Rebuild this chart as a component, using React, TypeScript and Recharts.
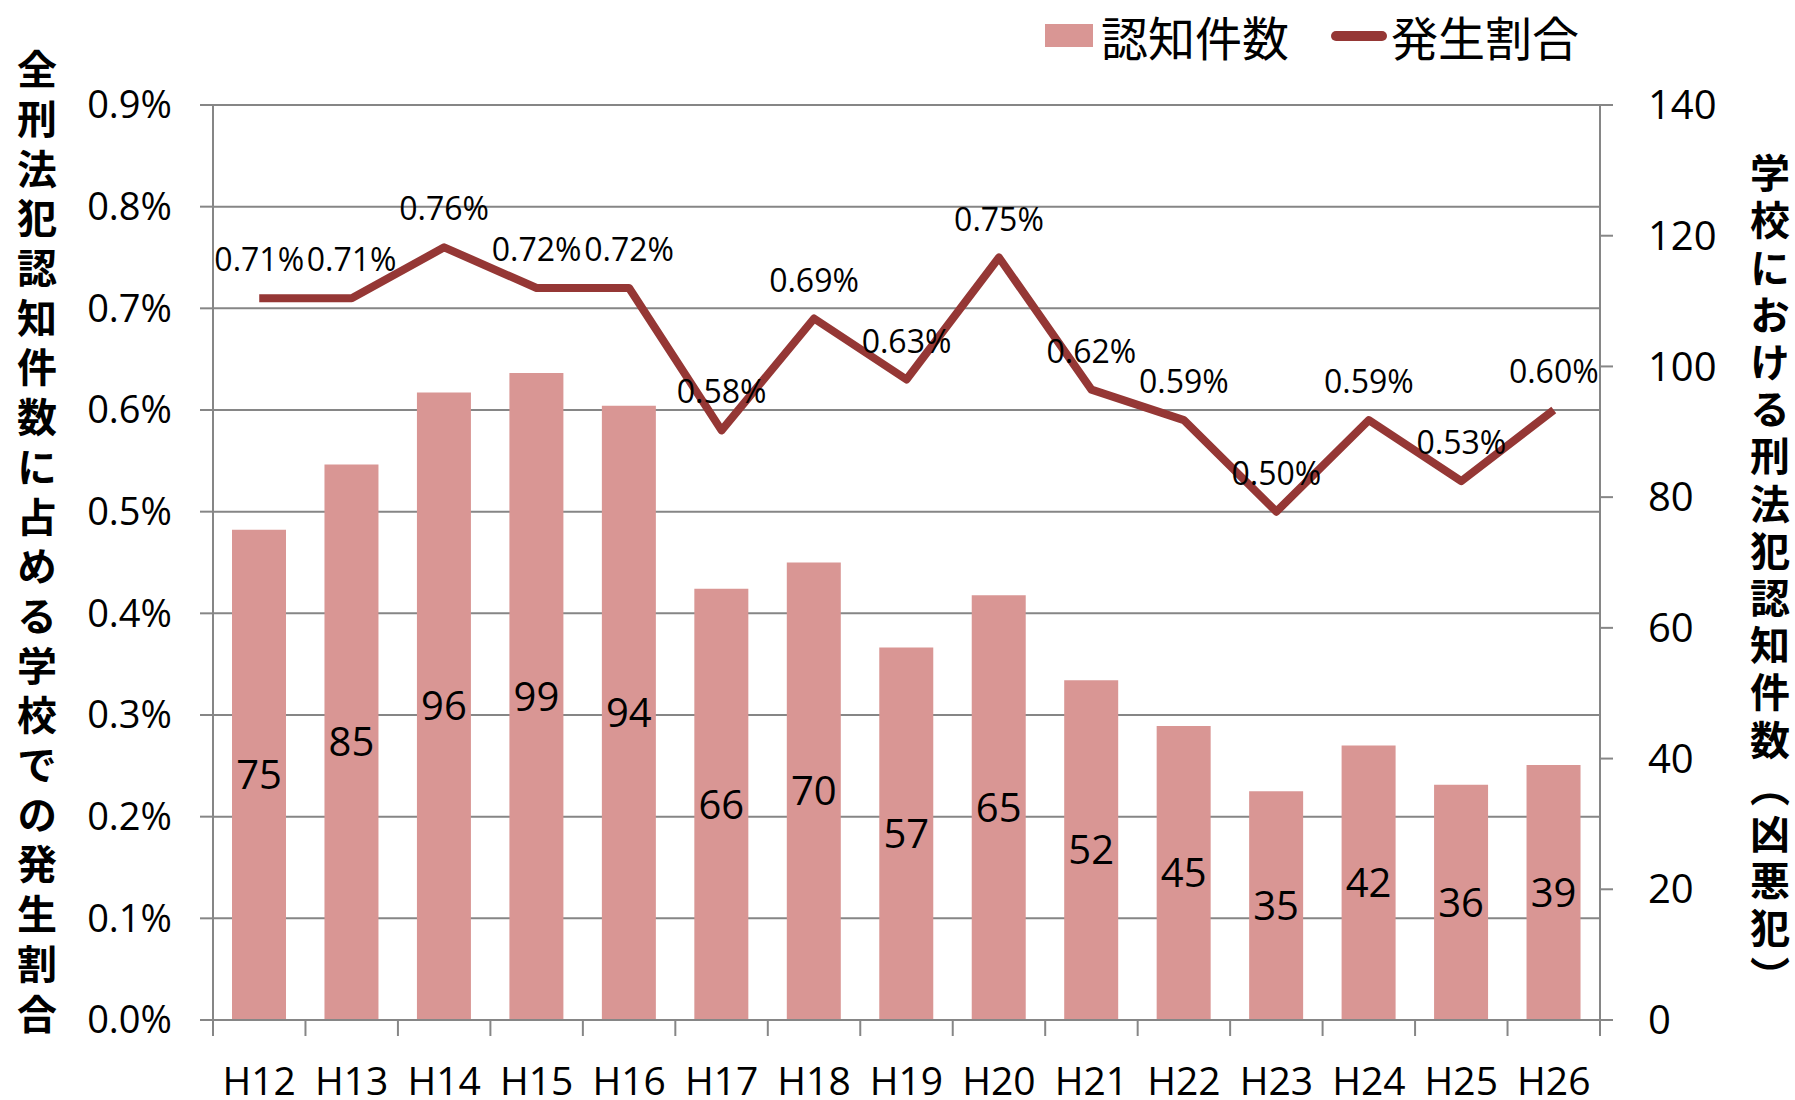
import {
  ComposedChart,
  Bar,
  Line,
  XAxis,
  YAxis,
  CartesianGrid,
  Legend,
  LabelList,
} from "recharts";

// 年度・凶悪犯認知件数・発生割合
const years = ["H12", "H13", "H14", "H15", "H16", "H17", "H18", "H19", "H20", "H21", "H22", "H23", "H24", "H25", "H26"];
const counts = [75, 85, 96, 99, 94, 66, 70, 57, 65, 52, 45, 35, 42, 36, 39];
const rates = [0.71, 0.71, 0.76, 0.72, 0.72, 0.58, 0.69, 0.63, 0.75, 0.62, 0.59, 0.5, 0.59, 0.53, 0.6];

const rateTicks = [0, 0.1, 0.2, 0.3, 0.4, 0.5, 0.6, 0.7, 0.8, 0.9];
const countTicks = [0, 20, 40, 60, 80, 100, 120, 140];

const leftTitle = "全刑法犯認知件数に占める学校での発生割合";
const rightTitle = "学校における刑法犯認知件数（凶悪犯）";

const data = years.map((y, i) => ({ year: y, count: counts[i], rate: rates[i] }));

const BAR_COLOR = "#D99694";
const LINE_COLOR = "#953735";
const AXIS_COLOR = "#868686";
const NUM_FONT = "'Open Sans', sans-serif";
const JP_FONT = "'Noto Sans CJK JP', sans-serif";

const W = 1795;
const H = 1100;
const PLOT_LEFT = 213;
const PLOT_RIGHT = 1600;
const BAND = (PLOT_RIGHT - PLOT_LEFT) / years.length;

function XTick(props: any) {
  const { x, y, payload, index } = props;
  return (
    <g>
      <line x1={x - BAND / 2} x2={x - BAND / 2} y1={y} y2={y + 16} stroke={AXIS_COLOR} strokeWidth={2} />
      {index === years.length - 1 && (
        <line x1={x + BAND / 2} x2={x + BAND / 2} y1={y} y2={y + 16} stroke={AXIS_COLOR} strokeWidth={2} />
      )}
      <text
        x={x}
        y={y + 59}
        textAnchor="middle"
        dominantBaseline="central"
        fontSize={39}
        fontFamily={NUM_FONT}
        fill="#000"
      >
        {payload.value}
      </text>
    </g>
  );
}

// 縦書きタイトル
function verticalTitle(text: string, cx: number, top: number, spacing: number) {
  return (
    <text
      x={cx}
      y={top}
      style={{ writingMode: "vertical-rl" }}
      letterSpacing={spacing}
      fontSize={40}
      fontWeight={700}
      fontFamily={JP_FONT}
      fill="#000"
    >
      {text}
    </text>
  );
}

function LegendContent() {
  return (
    <div
      style={{
        display: "flex",
        alignItems: "center",
        fontFamily: JP_FONT,
        fontSize: 47,
        color: "#000",
        lineHeight: 1,
      }}
    >
      <div style={{ width: 48, height: 23, background: BAR_COLOR, marginRight: 8 }} />
      <span>認知件数</span>
      <div
        style={{
          width: 56,
          height: 10,
          borderRadius: 5,
          background: LINE_COLOR,
          marginLeft: 42,
          marginRight: 4,
        }}
      />
      <span>発生割合</span>
    </div>
  );
}

export default function App() {
  return (
    <div style={{ position: "absolute", left: 0, top: 0, background: "#fff" }}>
      <ComposedChart
        width={W}
        height={H}
        data={data}
        margin={{ top: 105, right: 0, bottom: 0, left: 0 }}
        style={{ fontFamily: NUM_FONT }}
      >
        <CartesianGrid
          yAxisId="left"
          vertical={false}
          stroke={AXIS_COLOR}
          strokeWidth={2}
        />
        <XAxis
          dataKey="year"
          height={80}
          axisLine={{ stroke: AXIS_COLOR, strokeWidth: 2 }}
          tickLine={false}
          tickSize={0}
          tickMargin={0}
          interval={0}
          tick={<XTick />}
        />
        <YAxis
          yAxisId="left"
          orientation="left"
          width={213}
          domain={[0, 0.9]}
          ticks={rateTicks}
          tickFormatter={(v: number) => `${v.toFixed(1)}%`}
          axisLine={{ stroke: AXIS_COLOR, strokeWidth: 2 }}
          tickLine={{ stroke: AXIS_COLOR, strokeWidth: 2 }}
          tickSize={13}
          tickMargin={28}
          tick={{ fill: "#000", fontSize: 38, fontFamily: NUM_FONT }}
          label={{
            content: () => verticalTitle(leftTitle, 37, 49, 9.7),
          }}
        />
        <YAxis
          yAxisId="right"
          orientation="right"
          width={195}
          domain={[0, 140]}
          ticks={countTicks}
          axisLine={{ stroke: AXIS_COLOR, strokeWidth: 2 }}
          tickLine={{ stroke: AXIS_COLOR, strokeWidth: 2 }}
          tickSize={13}
          tickMargin={35}
          tick={{ fill: "#000", fontSize: 40, fontFamily: NUM_FONT }}
          label={{
            content: () => verticalTitle(rightTitle, 1770, 153, 7.2),
          }}
        />
        <Legend
          verticalAlign="middle"
          align="center"
          width={620}
          wrapperStyle={{ top: 12, left: 1045 }}
          content={<LegendContent />}
        />
        <Bar
          yAxisId="right"
          dataKey="count"
          name="認知件数"
          fill={BAR_COLOR}
          barSize={54}
          isAnimationActive={false}
        >
          <LabelList
            dataKey="count"
            position="center"
            fill="#000"
            fontSize={40}
            fontFamily={NUM_FONT}
          />
        </Bar>
        <Line
          yAxisId="left"
          dataKey="rate"
          name="発生割合"
          stroke={LINE_COLOR}
          strokeWidth={8}
          strokeLinejoin="round"
          dot={false}
          activeDot={false}
          isAnimationActive={false}
        >
          <LabelList
            dataKey="rate"
            position="top"
            offset={27}
            fill="#000"
            fontSize={32}
            fontFamily={NUM_FONT}
            formatter={(v: any) => `${Number(v).toFixed(2)}%`}
          />
        </Line>
      </ComposedChart>
    </div>
  );
}
